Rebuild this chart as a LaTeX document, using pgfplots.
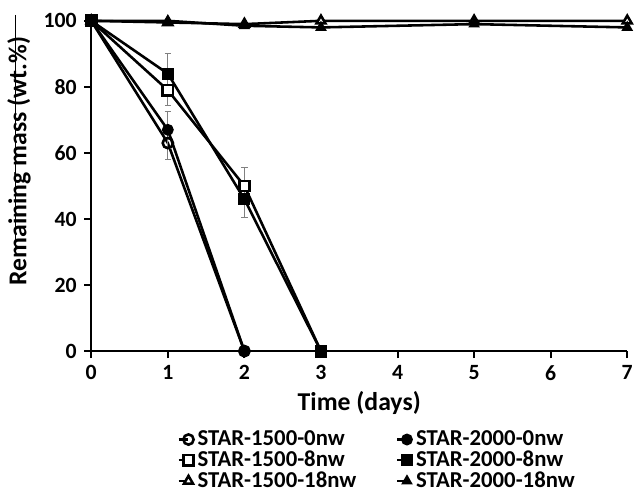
\documentclass[border=0pt]{standalone}
\usepackage{fontspec}
\setmainfont{Carlito}
\usepackage{pgfplots}
\pgfplotsset{compat=1.18}

\pgfplotsset{
  curve/.style={black, line width=1.3pt, mark size=2.6pt, mark options={solid, line width=0.8pt}},
  ebar/.style={error bars/.cd, y dir=both, y explicit,
    error bar style={gray, line width=0.4pt},
    error mark options={gray, rotate=90, mark size=1.6pt, line width=0.4pt}},
}

\begin{document}
\fontsize{11}{13}\selectfont\bfseries
\begin{tikzpicture}
\begin{axis}[
  scale only axis,
  width=271pt, height=167pt,
  xmin=0, xmax=7, ymin=0, ymax=100,
  xtick={0,1,2,3,4,5,6,7},
  ytick={0,20,40,60,80,100},
  axis lines=left,
  axis line style={-, line width=1pt},
  tick style={black, line width=1pt},
  major tick length=3.5pt,
  tick align=outside,
  clip=false,
  /pgf/number format/assume math mode=true,
  ticklabel style={font=\fontsize{11}{13}\selectfont\bfseries},
  label style={font=\fontsize{13}{15}\selectfont\bfseries},
  xlabel={Time (days)},
  ylabel={Remaining mass (wt.\%)},
  xlabel style={yshift=2pt},
  ylabel style={at={(ticklabel cs:0.575)}, yshift=-1pt},
  legend columns=2,
  legend style={at={(axis description cs:0.535,-0.227)}, anchor=north, draw=none, fill=none,
    font=\fontsize{11.5}{13}\selectfont\bfseries,
    row sep=-3pt, inner sep=0pt,
    /tikz/every even column/.append style={column sep=18pt}},
  legend cell align=left,
  legend image code/.code={
    \draw[#1] (0pt,0pt) -- (5pt,0pt);
    \draw[#1, only marks] plot coordinates {(5pt,0pt)};
  },
]
% STAR-1500-0nw
\addplot[curve, mark=o, mark options={fill=white}, ebar] coordinates {
 (0,100) +- (0,0) (1,63) +- (0,5) (2,0) +- (0,0)
};
\addlegendentry{STAR-1500-0nw}
% STAR-2000-0nw
\addplot[curve, mark=*, ebar] coordinates {
 (0,100) +- (0,0) (1,67) +- (0,5.5) (2,0) +- (0,0)
};
\addlegendentry{STAR-2000-0nw}
% STAR-1500-8nw
\addplot[curve, mark=square*, mark options={fill=white}, ebar] coordinates {
 (0,100) +- (0,0) (1,79) +- (0,4.5) (2,50) +- (0,5.5) (3,0) +- (0,0)
};
\addlegendentry{STAR-1500-8nw}
% STAR-2000-8nw
\addplot[curve, mark=square*, ebar] coordinates {
 (0,100) +- (0,0) (1,84) +- (0,6) (2,46) +- (0,5.4) (3,0) +- (0,0)
};
\addlegendentry{STAR-2000-8nw}
% STAR-1500-18nw
\addplot[curve, mark=triangle*, mark options={fill=white}] coordinates {
 (0,100) (1,99.5) (2,99) (3,100) (5,100) (7,100)
};
\addlegendentry{STAR-1500-18nw}
% STAR-2000-18nw
\addplot[curve, mark=triangle*] coordinates {
 (0,100) (1,100) (2,98.5) (3,98) (5,99) (7,98)
};
\addlegendentry{STAR-2000-18nw}
% stray rule at the far left of the original
\draw[line width=0.5pt] (axis description cs:-0.142,1.018) -- (axis description cs:-0.142,0.305);
% page frame, same margins as the original
\path (axis description cs:-0.166,1.063) rectangle (axis description cs:1.015,-0.422);
\end{axis}
\end{tikzpicture}
\end{document}
